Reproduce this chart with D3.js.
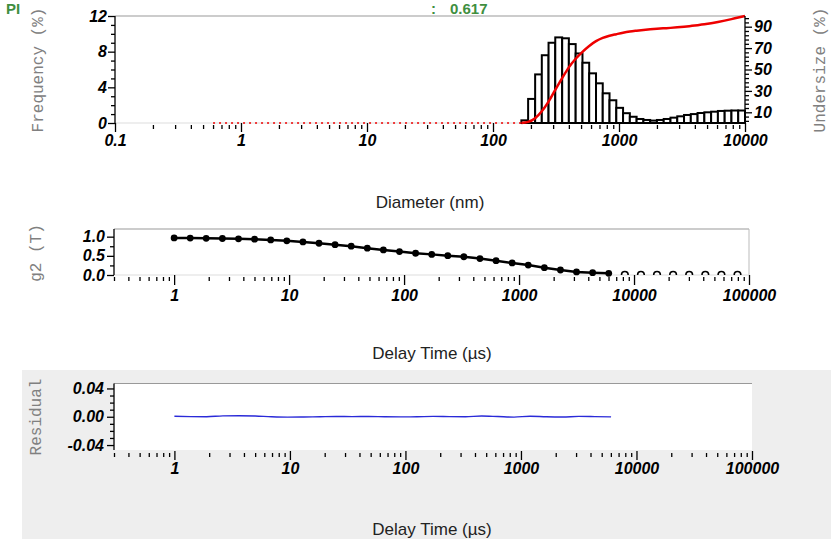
<!DOCTYPE html>
<html><head><meta charset="utf-8">
<script src="https://cdn.jsdelivr.net/npm/d3@7"></script>
<style>body{margin:0;background:#fff}svg{display:block}</style>
</head><body><svg id="c" width="831" height="539"></svg>
<script>
// ---------- DATA ----------
const binEdges = [168, 190, 216, 244, 276, 312, 354, 400, 453, 513, 580, 657, 743, 841, 952, 1077, 1219, 1380, 1562, 1768, 2000, 2264, 2562, 2900, 3282, 3715, 4204, 4758, 5385, 6095, 6898, 7807, 8836, 10000];
const frequency = [0.3, 2.7, 5.45, 7.6, 9.0, 9.6, 9.5, 8.85, 7.8, 6.76, 5.57, 4.45, 3.33, 2.55, 1.7, 1.1, 0.7, 0.45, 0.34, 0.27, 0.34, 0.45, 0.6, 0.75, 0.9, 1.0, 1.12, 1.2, 1.27, 1.35, 1.38, 1.4, 1.4];
const undersize = [0, 1, 4.5, 11, 20, 31, 42, 52, 60, 66.5, 72, 76.5, 79.5, 81.5, 83, 84.4, 85.5, 86.3, 87, 87.6, 88.1, 88.5, 88.9, 89.4, 90, 90.7, 91.4, 92.2, 93.2, 94.4, 95.7, 97.1, 98.6, 100];
const zeroDiam = [0.6, 168];
const delayTime = [1, 1.38, 1.9, 2.63, 3.63, 5.01, 6.92, 9.55, 13.2, 18.2, 25.1, 34.7, 47.9, 66.1, 91.2, 126, 174, 240, 331, 457, 631, 871, 1202, 1660, 2291, 3162, 4365, 6026];
const g2 = [0.966, 0.964, 0.958, 0.952, 0.944, 0.934, 0.916, 0.892, 0.864, 0.828, 0.79, 0.752, 0.70, 0.655, 0.61, 0.568, 0.538, 0.505, 0.476, 0.428, 0.374, 0.314, 0.258, 0.19, 0.13, 0.08, 0.06, 0.045];
const tailTime = [8318, 11482, 15849, 21878, 30200, 41687, 57544, 79433];
const tailG2 = [0.006, 0.004, 0.005, 0.006, 0.004, 0.005, 0.006, 0.005];
const residual = [0.0008, 0.0002, 0.0, 0.0012, 0.0014, 0.001, 0.0, -0.0005, -0.0003, 0.0, 0.0003, 0.0002, 0.0004, 0.0, -0.0002, 0.0, 0.0005, 0.0002, 0.0, 0.001, 0.0003, -0.0005, 0.0008, 0.0, -0.0003, 0.0005, 0.0002, -0.0002];
const diamTicks = [0.1, 1, 10, 100, 1000, 10000];
const delayTicks = [1, 10, 100, 1000, 10000, 100000];
const freqTicks = [0, 4, 8, 12];
const freqMinor = [1, 2, 3, 5, 6, 7, 9, 10, 11];
const underTicks = [10, 30, 50, 70, 90];
const underMinor = [2, 6, 14, 18, 22, 26, 34, 38, 42, 46, 54, 58, 62, 66, 74, 78, 82, 86, 94, 98];
const g2Ticks = [0, 0.5, 1.0];
const g2Minor = [0.25, 0.75];
const residTicks = [-0.04, 0, 0.04];
const residMinor = [-0.03, -0.02, -0.01, 0.01, 0.02, 0.03];

// ---------- SETUP ----------
const svg = d3.select("#c");
const tickFont = "bold italic 16px 'Liberation Sans', Arial, sans-serif";
const monoFont = "16px 'Liberation Mono', 'Courier New', monospace";
const green = "#3f8f3f";

function styleAxis(g) {
  g.select(".domain").remove();
  g.selectAll("line").attr("stroke", "#000").attr("stroke-width", 1.3);
  g.selectAll("text").style("font", tickFont).attr("fill", "#000");
}
function fmt(d) { return d3.format("~g")(d); }
function fmtFixed(p) { const f = d3.format("." + p + "f"); return d => f(d).replace("\u2212", "-"); }
function minorLog(scale) {
  return scale.ticks().filter(v => {
    const l = Math.log10(v); return Math.abs(l - Math.round(l)) > 1e-9;
  });
}

// ---------- TOP: size distribution ----------
const xD = d3.scaleLog().domain([0.1, 10000]).range([115, 745]);
const yF = d3.scaleLinear().domain([0, 12]).range([123, 16]);
const yU = d3.scaleLinear().domain([0, 100]).range([123, 16]);

svg.append("line").attr("x1", 115).attr("x2", 745).attr("y1", 16).attr("y2", 16).attr("stroke", "#999");
svg.append("line").attr("x1", 115).attr("x2", 745).attr("y1", 123).attr("y2", 123).attr("stroke", "#ddd");

svg.append("g").selectAll("rect").data(frequency).join("rect")
  .attr("x", (d, i) => xD(binEdges[i]))
  .attr("width", (d, i) => xD(binEdges[i + 1]) - xD(binEdges[i]))
  .attr("y", d => yF(d))
  .attr("height", d => yF(0) - yF(d))
  .attr("fill", "#fff").attr("stroke", "#000").attr("stroke-width", 2);

svg.append("path").datum(zeroDiam)
  .attr("d", d3.line().x(d => xD(d)).y(() => yU(0)))
  .attr("stroke", "#e00").attr("stroke-width", 1.3).attr("stroke-dasharray", "2,4").attr("fill", "none");
svg.append("path").datum(undersize)
  .attr("d", d3.line().x((d, i) => xD(binEdges[i])).y(d => yU(d)).curve(d3.curveMonotoneX))
  .attr("stroke", "#e00").attr("stroke-width", 2.5).attr("fill", "none");

svg.append("line").attr("x1", 115).attr("x2", 115).attr("y1", 16).attr("y2", 123).attr("stroke", "#000").attr("stroke-width", 1.3);
svg.append("line").attr("x1", 745).attr("x2", 745).attr("y1", 16).attr("y2", 123).attr("stroke", "#000").attr("stroke-width", 1.3);
svg.append("g").attr("transform", "translate(0,123)")
  .call(d3.axisBottom(xD).tickValues(diamTicks).tickSize(9).tickPadding(3).tickFormat(fmt)).call(styleAxis);
svg.append("g").attr("transform", "translate(0,125)")
  .call(d3.axisBottom(xD).tickValues(minorLog(xD)).tickSize(4).tickFormat("")).call(styleAxis);
svg.append("g").attr("transform", "translate(115,0)")
  .call(d3.axisLeft(yF).tickValues(freqTicks).tickSize(7).tickPadding(1).tickFormat(fmt)).call(styleAxis);
svg.append("g").attr("transform", "translate(115,0)")
  .call(d3.axisLeft(yF).tickValues(freqMinor).tickSize(4).tickFormat("")).call(styleAxis);
svg.append("g").attr("transform", "translate(745,0)")
  .call(d3.axisRight(yU).tickValues(underTicks).tickSize(7).tickPadding(2).tickFormat(fmt)).call(styleAxis);
svg.append("g").attr("transform", "translate(745,0)")
  .call(d3.axisRight(yU).tickValues(underMinor).tickSize(4).tickFormat("")).call(styleAxis);

svg.append("text").attr("transform", "translate(43,70) rotate(-90)").attr("text-anchor", "middle")
  .style("font", monoFont).attr("fill", "#808080").text("Frequency (%)");
svg.append("text").attr("transform", "translate(825,70) rotate(-90)").attr("text-anchor", "middle")
  .style("font", monoFont).attr("fill", "#808080").text("Undersize (%)");
svg.append("text").attr("x", 430).attr("y", 208).attr("text-anchor", "middle")
  .style("font", "17px 'Liberation Sans', Arial, sans-serif").attr("fill", "#222").text("Diameter (nm)");
const headFont = "bold 15px 'Liberation Sans', Arial, sans-serif";
svg.append("text").attr("x", 6).attr("y", 14).style("font", headFont).attr("fill", green).text("PI");
svg.append("text").attr("x", 431).attr("y", 14).style("font", headFont).attr("fill", green).text(":");
svg.append("text").attr("x", 450).attr("y", 14).style("font", headFont).attr("fill", green).text("0.617");

// ---------- MIDDLE: correlation ----------
const xT = d3.scaleLog().domain([0.3, 100000]).range([114, 749]);
const yG = d3.scaleLinear().domain([0, 1.2]).range([275, 229]);

svg.append("line").attr("x1", 114).attr("x2", 749).attr("y1", 229).attr("y2", 229).attr("stroke", "#999");
svg.append("line").attr("x1", 749).attr("x2", 749).attr("y1", 229).attr("y2", 275).attr("stroke", "#bbb");
svg.append("line").attr("x1", 114).attr("x2", 749).attr("y1", 275).attr("y2", 275).attr("stroke", "#ddd");

svg.append("defs").append("clipPath").attr("id", "clipG").append("rect")
  .attr("x", 114).attr("y", 229).attr("width", 635).attr("height", 46);

svg.append("g").attr("clip-path", "url(#clipG)").selectAll("circle").data(tailG2).join("circle")
  .attr("cx", (d, i) => xT(tailTime[i])).attr("cy", d => yG(d)).attr("r", 3.3)
  .attr("fill", "none").attr("stroke", "#000").attr("stroke-width", 1.6);

svg.append("path").datum(g2)
  .attr("d", d3.line().x((d, i) => xT(delayTime[i])).y(d => yG(d)))
  .attr("stroke", "#000").attr("stroke-width", 2.5).attr("fill", "none");
svg.append("g").selectAll("circle").data(g2).join("circle")
  .attr("cx", (d, i) => xT(delayTime[i])).attr("cy", d => yG(d)).attr("r", 3.4).attr("fill", "#000");

svg.append("line").attr("x1", 114).attr("x2", 114).attr("y1", 229).attr("y2", 275).attr("stroke", "#000").attr("stroke-width", 1.3);
svg.append("g").attr("transform", "translate(0,275)")
  .call(d3.axisBottom(xT).tickValues(delayTicks).tickSize(10).tickPadding(5).tickFormat(fmt)).call(styleAxis);
svg.append("g").attr("transform", "translate(0,277)")
  .call(d3.axisBottom(xT).tickValues(minorLog(xT)).tickSize(4).tickFormat("")).call(styleAxis);
svg.append("g").attr("transform", "translate(114,0)")
  .call(d3.axisLeft(yG).tickValues(g2Ticks).tickSize(7).tickPadding(2).tickFormat(fmtFixed(1))).call(styleAxis);
svg.append("g").attr("transform", "translate(114,0)")
  .call(d3.axisLeft(yG).tickValues(g2Minor).tickSize(4).tickFormat("")).call(styleAxis);

svg.append("text").attr("transform", "translate(41,253) rotate(-90)").attr("text-anchor", "middle")
  .style("font", monoFont).attr("fill", "#808080").text("g2 (T)");
svg.append("text").attr("x", 432).attr("y", 359).attr("text-anchor", "middle")
  .style("font", "17px 'Liberation Sans', Arial, sans-serif").attr("fill", "#222").text("Delay Time (µs)");

// ---------- BOTTOM: residual ----------
svg.append("rect").attr("x", 22).attr("y", 370).attr("width", 809).attr("height", 169).attr("fill", "#eeeeee");
const xR = d3.scaleLog().domain([0.3, 100000]).range([114, 752]);
const yR = d3.scaleLinear().domain([-0.047, 0.047]).range([450, 383.5]);
svg.append("rect").attr("x", 114).attr("y", 383.5).attr("width", 638).attr("height", 66.5).attr("fill", "#fff");
svg.append("line").attr("x1", 114).attr("x2", 752).attr("y1", 383.5).attr("y2", 383.5).attr("stroke", "#999");

svg.append("path").datum(residual)
  .attr("d", d3.line().x((d, i) => xR(delayTime[i])).y(d => yR(d)).curve(d3.curveMonotoneX))
  .attr("stroke", "#2a2ad8").attr("stroke-width", 1.4).attr("fill", "none");

svg.append("line").attr("x1", 114).attr("x2", 114).attr("y1", 383.5).attr("y2", 450).attr("stroke", "#000").attr("stroke-width", 1.3);
svg.append("g").attr("transform", "translate(0,451)")
  .call(d3.axisBottom(xR).tickValues(delayTicks).tickSize(9).tickPadding(3).tickFormat(fmt)).call(styleAxis);
svg.append("g").attr("transform", "translate(0,453)")
  .call(d3.axisBottom(xR).tickValues(minorLog(xR)).tickSize(4).tickFormat("")).call(styleAxis);
svg.append("g").attr("transform", "translate(114,0)")
  .call(d3.axisLeft(yR).tickValues(residTicks).tickSize(7).tickPadding(3).tickFormat(fmtFixed(2))).call(styleAxis);
svg.append("g").attr("transform", "translate(114,0)")
  .call(d3.axisLeft(yR).tickValues(residMinor).tickSize(4).tickFormat("")).call(styleAxis);

svg.append("text").attr("transform", "translate(41,417) rotate(-90)").attr("text-anchor", "middle")
  .style("font", monoFont).attr("fill", "#808080").text("Residual");
svg.append("text").attr("x", 432).attr("y", 535).attr("text-anchor", "middle")
  .style("font", "17px 'Liberation Sans', Arial, sans-serif").attr("fill", "#222").text("Delay Time (µs)");
</script></body></html>
